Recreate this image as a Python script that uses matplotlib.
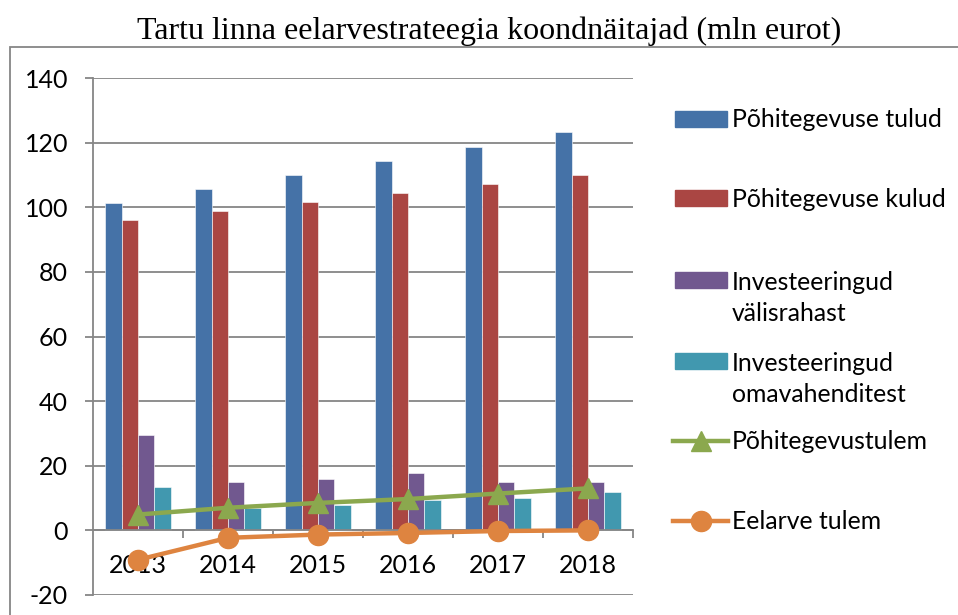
import numpy as np
import matplotlib
matplotlib.use("Agg")
import matplotlib.pyplot as plt
from matplotlib.patches import Rectangle
from matplotlib.lines import Line2D

# data (mln eurot)
years = ["2013", "2014", "2015", "2016", "2017", "2018"]
tulud = [101.2, 105.8, 109.9, 114.2, 118.7, 123.4]
kulud = [96.0, 98.8, 101.6, 104.4, 107.2, 110.0]
inv_valis = [29.4, 14.9, 15.8, 17.9, 14.9, 14.9]
inv_oma = [13.5, 7.0, 8.0, 9.3, 10.1, 12.0]
pohitulem = [4.9, 7.0, 8.5, 9.7, 11.4, 13.0]
eelarve_tulem = [-9.1, -2.3, -1.3, -0.8, -0.2, 0.0]

bar_names = ["Põhitegevuse tulud", "Põhitegevuse kulud",
             "Investeeringud\nvälisrahast", "Investeeringud\nomavahenditest"]
line_names = ["Põhitegevustulem", "Eelarve tulem"]
bar_colors = ["#4572A7", "#AA4643", "#71588F", "#4198AF"]
green = "#8BA84E"
orange = "#DE8440"
grid_c = "#868686"

W, H = 958, 615
plt.rcParams['font.family'] = ['Lato', 'DejaVu Sans']
plt.rcParams['axes.unicode_minus'] = False
fig = plt.figure(figsize=(W / 100, H / 100), dpi=100)

def fx(x):
    return x / W

def fy(y):
    return 1 - y / H

# plot area in pixels: x 93..633, y 78..595
ax = fig.add_axes([fx(93), fy(595), (633 - 93) / W, (595 - 78) / H])

x = np.arange(len(years))
w = 1 / 5.5
for k, (vals, c) in enumerate(zip([tulud, kulud, inv_valis, inv_oma], bar_colors)):
    ax.bar(x + (k - 1.5) * w, vals, width=w, color=c, edgecolor="white",
           linewidth=0.4, zorder=2)

ax.plot(x, pohitulem, color=green, lw=3.2, marker="^", ms=15, zorder=4,
        clip_on=False)
ax.plot(x, eelarve_tulem, color=orange, lw=3.2, marker="o", ms=14.5, zorder=5,
        clip_on=False)

ax.set_xlim(-0.5, 5.5)
ax.set_ylim(-20, 140)
ax.set_yticks(range(-20, 141, 20))
ax.yaxis.grid(True, color=grid_c, lw=1.3)
ax.set_axisbelow(True)

ax.set_xticks(x)
ax.set_xticklabels(years)
ax.set_xticks(np.arange(0.5, 6, 1), minor=True)
ax.tick_params(axis="x", which="major", length=0, pad=17, labelsize=18)
ax.tick_params(axis="x", which="minor", length=6, width=1.3, color=grid_c,
               direction="out")
ax.tick_params(axis="y", length=6, width=1.3, color=grid_c, pad=12,
               labelsize=18)

for s in ["top", "right"]:
    ax.spines[s].set_visible(False)
ax.spines["bottom"].set_position(("data", 0))
ax.spines["bottom"].set_color(grid_c)
ax.spines["bottom"].set_linewidth(1.3)
ax.spines["left"].set_color(grid_c)
ax.spines["left"].set_linewidth(1.3)
for t in ax.get_xticklabels():
    t.set_zorder(3)

# chart border
fig.add_artist(Rectangle((fx(10), fy(700)), 2, fy(47) - fy(700),
                         transform=fig.transFigure, fill=False,
                         edgecolor=grid_c, lw=1.3))

fig.text(fx(489), fy(39.5), "Tartu linna eelarvestrateegia koondnäitajad (mln eurot)",
         family="Liberation Serif", fontsize=23.0, ha="center", va="baseline")

# legend, drawn by hand to keep the Excel layout
baselines = [127, 207, 288, 369, 449, 529]
pitch = 32.7
for i, (name, c) in enumerate(zip(bar_names, bar_colors)):
    b = baselines[i]
    fig.add_artist(Rectangle((fx(675), fy(b - 0.5)), 52 / W, 16 / H,
                             transform=fig.transFigure, color=c))
    nl = name.count("\n")
    fig.text(fx(732), fy(b + nl * pitch), name, fontsize=17.8, va="baseline",
             ha="left", linespacing=1.38)
for j, (name, c, m) in enumerate(zip(line_names, [green, orange], ["^", "o"])):
    b = baselines[4 + j]
    yc = fy(b - 8)
    fig.add_artist(Line2D([fx(673), fx(728)], [yc, yc], color=c, lw=3.2,
                          transform=fig.transFigure))
    fig.add_artist(Line2D([fx(700.5)], [yc], color=c, marker=m,
                          ms=15 if m == "^" else 14.5,
                          transform=fig.transFigure))
    fig.text(fx(732), fy(b), name, fontsize=17.8, va="baseline", ha="left")

fig.savefig("out.png", dpi=100)
